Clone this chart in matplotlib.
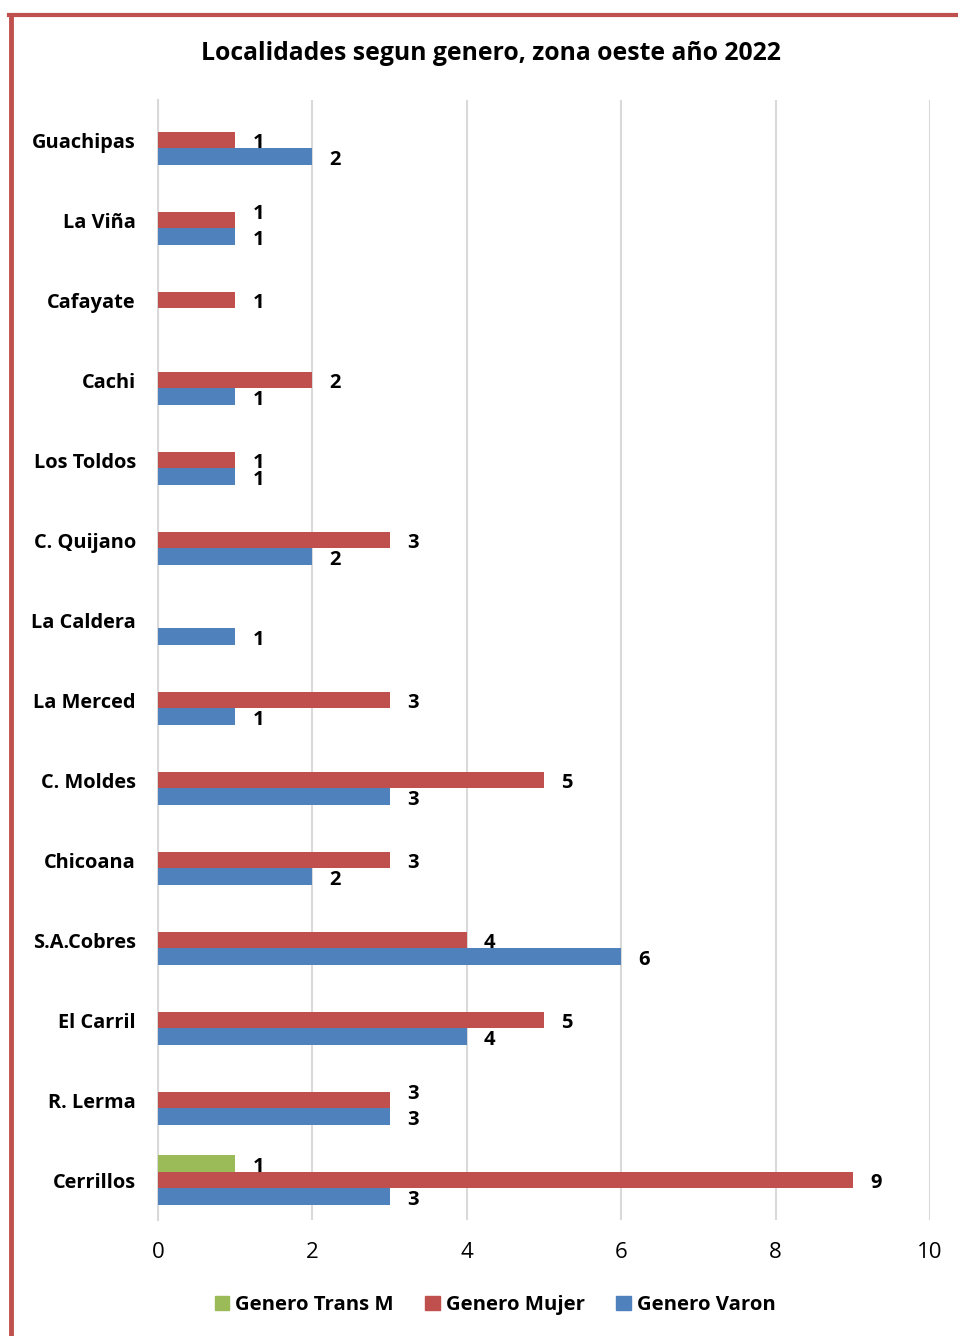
import matplotlib.pyplot as plt
import matplotlib.patches as mpatches
import numpy as np

plt.rcParams['font.family'] = ['Open Sans', 'DejaVu Sans']

# Data (top to bottom as in the chart)
localidades = ["Guachipas", "La Viña", "Cafayate", "Cachi", "Los Toldos", "C. Quijano",
               "La Caldera", "La Merced", "C. Moldes", "Chicoana", "S.A.Cobres",
               "El Carril", "R. Lerma", "Cerrillos"]
genero_trans_m = [0, 0, 0, 0, 0, 0, 0, 0, 0, 0, 0, 0, 0, 1]
genero_mujer = [1, 1, 1, 2, 1, 3, 0, 3, 5, 3, 4, 5, 3, 9]
genero_varon = [2, 1, 0, 1, 1, 2, 1, 1, 3, 2, 6, 4, 3, 3]

col_trans = '#9bbb59'
col_mujer = '#c0504d'
col_varon = '#4f81bd'

fig = plt.figure(figsize=(9.58, 13.36), dpi=100)
ax = fig.add_axes([158 / 958, 1 - 1220 / 1336, (930 - 158) / 958, 1120 / 1336])

y = np.arange(len(localidades))
h = 0.21

# Excel moved a couple of labels up to avoid overlap
nudge_up = {("mujer", "La Viña"): 6.5, ("mujer", "R. Lerma"): 6.5}

series = [("trans", genero_trans_m, -h, col_trans),
          ("mujer", genero_mujer, 0, col_mujer),
          ("varon", genero_varon, h, col_varon)]
for name, vals, off, col in series:
    for yi, v in zip(y, vals):
        if v == 0:
            continue
        ax.barh(yi + off, v, height=h, color=col, zorder=3)
        dy = -2.5 + nudge_up.get((name, localidades[yi]), 0)
        ax.annotate(str(v), (v, yi + off), xytext=(16.5, dy), textcoords='offset points',
                    ha='center', va='center', fontsize=14.5, fontweight='bold', zorder=4)

ax.set_xlim(0, 10)
ax.set_ylim(len(localidades) - 0.5, -0.5)
ax.set_xticks(range(0, 11, 2))
ax.set_yticks(y)
ax.set_yticklabels(localidades, fontsize=14.4, fontweight='bold')
ax.tick_params(axis='x', labelsize=16, length=0, pad=15.5)
ax.tick_params(axis='y', length=0, pad=16)
ax.grid(axis='x', color='#d9d9d9', linewidth=1.5, zorder=0)
for s in ['top', 'right', 'bottom']:
    ax.spines[s].set_visible(False)
ax.spines['left'].set_color('#d9d9d9')
ax.spines['left'].set_linewidth(1.5)

fig.text(491 / 958, 1 - 54 / 1336, "Localidades segun genero, zona oeste año 2022",
         ha='center', va='center', fontsize=17.8, fontweight='bold')

handles = [mpatches.Patch(color=col_trans, label='Genero Trans M'),
           mpatches.Patch(color=col_mujer, label='Genero Mujer'),
           mpatches.Patch(color=col_varon, label='Genero Varon')]
fig.legend(handles=handles, loc='center', bbox_to_anchor=(495 / 958, 1 - 1305 / 1336), ncol=3,
           frameon=False, handlelength=0.7, handleheight=0.7, handletextpad=0.3, columnspacing=1.55,
           prop={'size': 14.7, 'weight': 'bold'})

# red frame around the chart (left and top edges visible)
fig.add_artist(plt.Line2D([10.5 / 958, 10.5 / 958], [0, 1 - 14.5 / 1336], color=col_mujer, linewidth=3.5))
fig.add_artist(plt.Line2D([9 / 958, 1], [1 - 14.5 / 1336, 1 - 14.5 / 1336], color=col_mujer, linewidth=3))

fig.savefig('out.png', dpi=100)
